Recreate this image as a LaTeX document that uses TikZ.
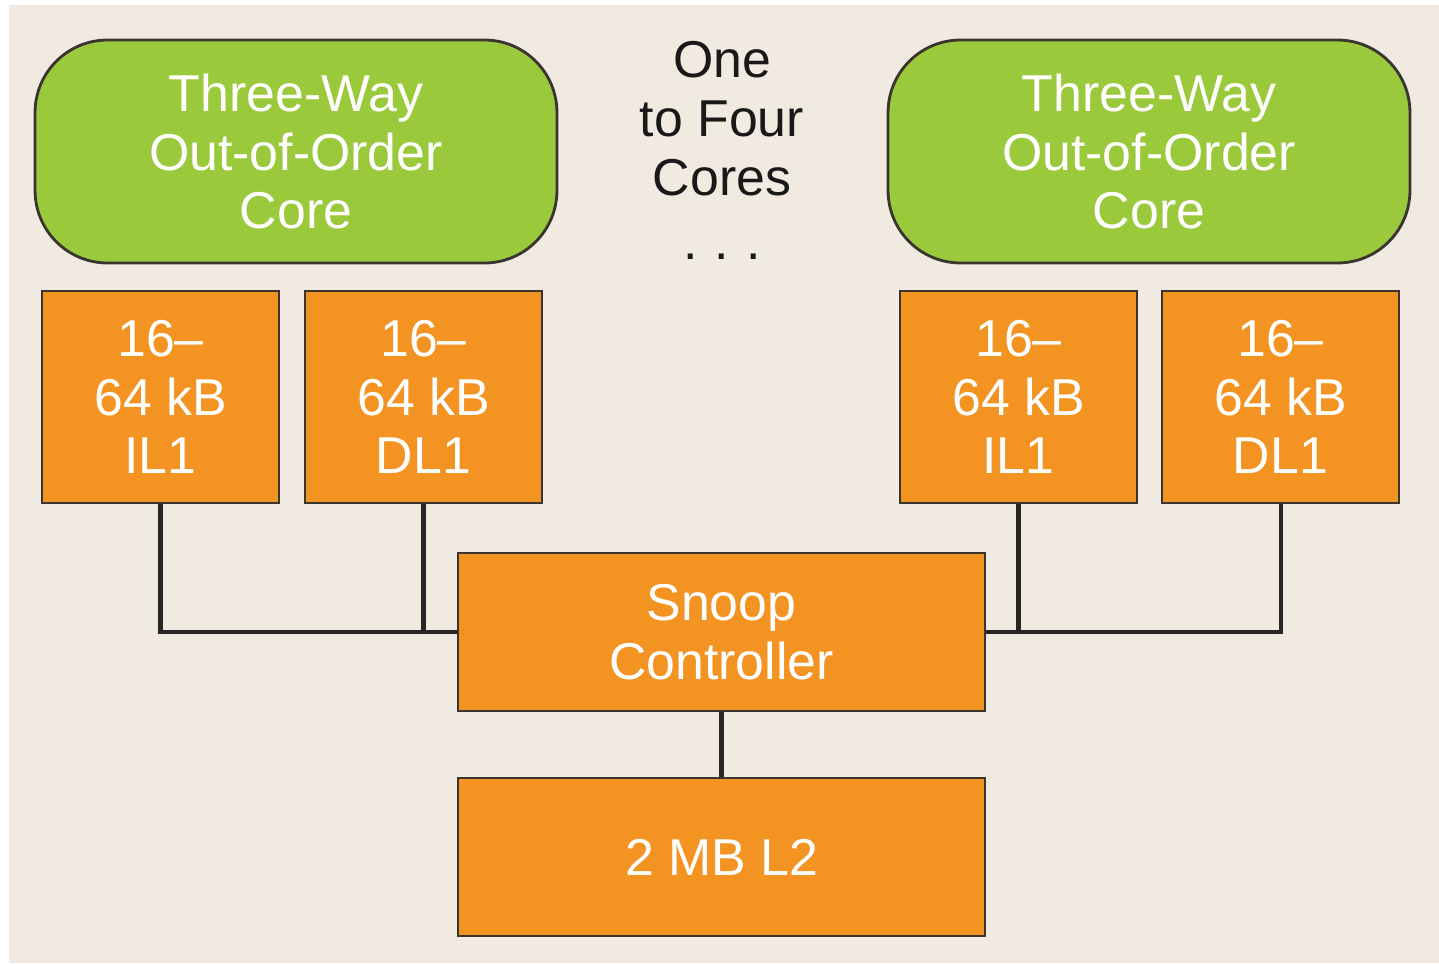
\documentclass[tikz,border=0pt]{standalone}
\usepackage{fontspec}
\setmainfont{Liberation Sans}
\definecolor{pagebg}{HTML}{F1EAE0}
\definecolor{coregreen}{HTML}{9BC93C}
\definecolor{cacheorange}{HTML}{F39321}
\definecolor{edge}{HTML}{3A3530}
\begin{document}
\begin{tikzpicture}[x=0.02cm,y=-0.02cm,
  bigtext/.style={font=\fontsize{29.5}{33.5}\selectfont, align=center},
  corebox/.style={bigtext, draw=edge, line width=1.6pt, fill=coregreen, text=white,
    rounded corners=1.45cm, minimum width=10.44cm, minimum height=4.46cm, inner sep=0pt},
  cachebox/.style={bigtext, draw=edge, line width=1.6pt, fill=cacheorange, text=white,
    minimum width=4.74cm, minimum height=4.24cm, inner sep=0pt},
  wideblock/.style={bigtext, draw=edge, line width=1.6pt, fill=cacheorange, text=white,
    minimum width=10.54cm, minimum height=3.16cm, inner sep=0pt},
  wire/.style={draw=black!85, line width=2.3pt}]
\useasboundingbox (0,0) rectangle (1439,963);
\fill[white] (0,0) rectangle (1439,963);
\fill[pagebg] (9,5) rectangle (1439,963);

% processor cores
\node[corebox] (coreL) at (296,151.5) {Three-Way\\Out-of-Order\\Core};
\node[corebox] (coreR) at (1149,151.5) {Three-Way\\Out-of-Order\\Core};
\node[bigtext, text=black!90] (count) at (722,119) {One\\to Four\\Cores};
\node[bigtext, text=black!90, anchor=base] (dots) at (722,259) {.\,\,.\,\,.};

% first-level caches
\node[cachebox] (ilL) at (160.5,397) {16--\\64 kB\\IL1};
\node[cachebox] (dlL) at (423.5,397) {16--\\64 kB\\DL1};
\node[cachebox] (ilR) at (1018.5,397) {16--\\64 kB\\IL1};
\node[cachebox] (dlR) at (1280.5,397) {16--\\64 kB\\DL1};

% shared blocks
\node[wideblock] (snoop) at (721.5,632) {Snoop\\Controller};
\node[wideblock] (l2) at (721.5,857) {2 MB L2};

% connections
\draw[wire] (ilL.south) |- (snoop.west);
\draw[wire] (dlL.south) -- (dlL.south |- snoop.west);
\draw[wire] (dlR.south) |- (snoop.east);
\draw[wire] (ilR.south) -- (ilR.south |- snoop.east);
\draw[wire] (snoop.south) -- (l2.north);
\end{tikzpicture}
\end{document}
